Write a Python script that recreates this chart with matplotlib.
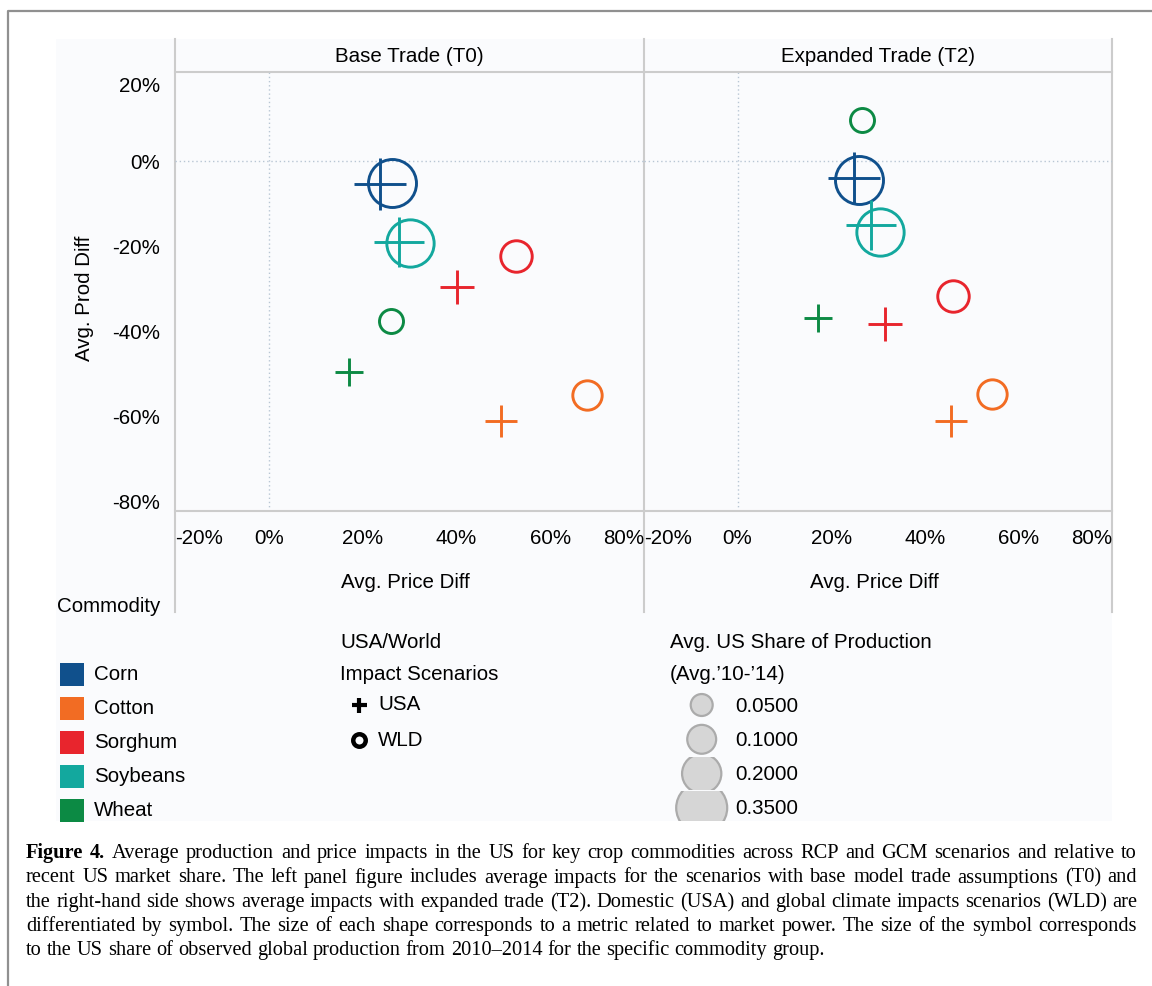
import matplotlib.pyplot as plt
from matplotlib.patches import Rectangle, Circle

plt.rcParams['font.family'] = ['Liberation Sans', 'DejaVu Sans']

commodities = ['Corn', 'Cotton', 'Sorghum', 'Soybeans', 'Wheat']
colors = ['#10508c', '#f26c23', '#e8252d', '#13a89e', '#0c8a44']
us_share = [0.35, 0.13, 0.15, 0.34, 0.085]

# Base Trade (T0): price diff (x), production diff (y)
t0_usa_price = [0.238, 0.495, 0.402, 0.277, 0.171]
t0_usa_prod = [-0.054, -0.613, -0.297, -0.190, -0.497]
t0_wld_price = [0.262, 0.678, 0.527, 0.301, 0.260]
t0_wld_prod = [-0.053, -0.551, -0.224, -0.194, -0.376]

# Expanded Trade (T2)
t2_usa_price = [0.248, 0.455, 0.315, 0.285, 0.171]
t2_usa_prod = [-0.041, -0.613, -0.385, -0.150, -0.369]
t2_wld_price = [0.259, 0.543, 0.461, 0.304, 0.266]
t2_wld_prod = [-0.044, -0.548, -0.318, -0.167, 0.096]

panel_titles = ['Base Trade (T0)', 'Expanded Trade (T2)']
x_ticks = [-0.2, 0, 0.2, 0.4, 0.6, 0.8]
y_ticks = [0.2, 0, -0.2, -0.4, -0.6, -0.8]
size_legend = [0.05, 0.10, 0.20, 0.35]

caption_lines = [
    "Figure 4. Average production and price impacts in the US for key crop commodities across RCP and GCM scenarios and relative to",
    "recent US market share. The left panel figure includes average impacts for the scenarios with base model trade assumptions (T0) and",
    "the right-hand side shows average impacts with expanded trade (T2). Domestic (USA) and global climate impacts scenarios (WLD) are",
    "differentiated by symbol. The size of each shape corresponds to a metric related to market power. The size of the symbol corresponds",
    "to the US share of observed global production from 2010\u20132014 for the specific commodity group.",
]

W, H = 1152, 987
PT = 0.72  # points per pixel at dpi 100
FS = 14.8
GRAY = '#cccccc'


def marker_px(share):
    # diameter in pixels, area grows linearly with share
    return (129 + 7064 * share) ** 0.5


fig = plt.figure(figsize=(W / 100, H / 100), dpi=100)

# background / layout layer in pixel coordinates
bg = fig.add_axes([0, 0, 1, 1], zorder=-1)
bg.set_xlim(0, W)
bg.set_ylim(H, 0)
bg.axis('off')
bg.add_patch(Rectangle((56, 40), 1056, 782, color='#fafbfd', lw=0))
bg.plot([8, 8, W], [H, 12, 12], color='#909090', lw=1.6, solid_capstyle='butt')
for xv in [175, 644, 1112]:
    bg.plot([xv, xv], [40, 613], color=GRAY, lw=1.5)

left_px, mid_px, right_px, top_px, bot_px = 175, 644, 1112, 73, 512
panels = [
    (left_px, mid_px, t0_usa_price, t0_usa_prod, t0_wld_price, t0_wld_prod),
    (mid_px, right_px, t2_usa_price, t2_usa_prod, t2_wld_price, t2_wld_prod),
]

for k, (x0, x1, ux, uy, wx, wy) in enumerate(panels):
    ax = fig.add_axes([x0 / W, 1 - bot_px / H, (x1 - x0) / W, (bot_px - top_px) / H])
    ax.set_facecolor('none')
    ax.set_xlim(-0.2, 0.8)
    ax.set_ylim(-0.824, 0.209)
    ax.axhline(0, color='#b8c6d4', lw=1.0, ls=(0, (1, 2)), zorder=1)
    ax.axvline(0, color='#b8c6d4', lw=1.0, ls=(0, (1, 2)), zorder=1)
    for i, c in enumerate(colors):
        d = marker_px(us_share[i])
        ax.plot(wx[i], wy[i], marker='o', ms=(d - 3) * PT, mfc='none', mec=c,
                mew=2.1, ls='none', zorder=3)
        ax.plot(ux[i], uy[i], marker='+', ms=d * PT, mec=c, mew=2.1,
                ls='none', zorder=4)
    for s in ['left', 'right']:
        ax.spines[s].set_visible(False)
    for s in ['top', 'bottom']:
        ax.spines[s].set_color(GRAY)
        ax.spines[s].set_linewidth(1.5)
    ax.set_xticks(x_ticks, [f'{v:.0%}' for v in x_ticks])
    ax.tick_params(axis='x', length=0, labelsize=FS, pad=12)
    xl = ax.get_xticklabels()
    xl[0].set_ha('left')
    xl[-1].set_ha('right')
    if k == 0:
        ax.set_yticks(y_ticks, [f'{v:.0%}' for v in y_ticks])
        ax.tick_params(axis='y', length=0, labelsize=FS, pad=11)
        ax.get_yticklabels()[0].set_va('top')
    else:
        ax.set_yticks([])
    cx = (x0 + x1) / 2
    bg.text(cx, 57, panel_titles[k], fontsize=FS, ha='center', va='center')
    bg.text(cx - 4, 583, 'Avg. Price Diff', fontsize=FS, ha='center', va='center')

bg.text(85, 298, 'Avg. Prod Diff', fontsize=FS, rotation=90, ha='center', va='center')

# legends
bg.text(57, 607, 'Commodity', fontsize=FS, ha='left', va='center')
for i, name in enumerate(commodities):
    yc = 675 + 34 * i
    bg.add_patch(Rectangle((60, yc - 11.5), 24, 23, color=colors[i], lw=0))
    bg.text(94, yc, name, fontsize=FS, ha='left', va='center')

bg.text(340, 643, 'USA/World', fontsize=FS, ha='left', va='center')
bg.text(340, 675, 'Impact Scenarios', fontsize=FS, ha='left', va='center')
bg.plot(359, 706, marker='+', ms=15 * PT, mew=3.0, color='black')
bg.text(378, 705, 'USA', fontsize=FS, ha='left', va='center')
bg.plot(359, 741, marker='o', ms=12.5 * PT, mew=3.2, mfc='none', mec='black')
bg.text(378, 740, 'WLD', fontsize=FS, ha='left', va='center')

bg.text(670, 643, 'Avg. US Share of Production', fontsize=FS, ha='left', va='center')
bg.text(670, 675, "(Avg.\u201910-\u201914)", fontsize=FS, ha='left', va='center')
for i, v in enumerate(size_legend):
    yc = 706 + 34.3 * i
    r = marker_px(v) / 2
    band_top = yc - 16.5
    band_bot = min(yc + 16.5, 822)
    clip = Rectangle((670, band_top), 70, band_bot - band_top, transform=bg.transData)
    circ = Circle((701.7, yc), r, facecolor='#d6d6d6', edgecolor='#ababab', lw=1.6)
    bg.add_patch(circ)
    circ.set_clip_path(clip)
    bg.text(735, yc, f'{v:.4f}', fontsize=FS, ha='left', va='center')

# caption, justified
renderer = fig.canvas.get_renderer()
cap_x0, cap_x1 = 26, 1137
cap_base = [858, 882.5, 907, 931, 955]

# pick the caption size so the widest full line just fits
probe = [bg.text(0, 0, ln, fontsize=10, family='Liberation Serif') for ln in caption_lines[:-1]]
widest = max(t.get_window_extent(renderer).width for t in probe)
for t in probe:
    t.remove()
cap_fs = 10 * (cap_x1 - cap_x0 - 6) / widest

for k, line in enumerate(caption_lines):
    words = line.split(' ')
    texts = []
    for j, w in enumerate(words):
        bold = k == 0 and j < 2
        texts.append(bg.text(0, cap_base[k], w, fontsize=cap_fs, family='Liberation Serif',
                             weight='bold' if bold else 'normal', ha='left', va='baseline'))
    widths = [t.get_window_extent(renderer).width for t in texts]
    if k < len(caption_lines) - 1:
        gap = (cap_x1 - cap_x0 - sum(widths)) / (len(words) - 1)
    else:
        gap = 0.25 * cap_fs / PT
    x = cap_x0
    for t, w in zip(texts, widths):
        t.set_x(x)
        x += w + gap

fig.savefig('out.png', dpi=100)
